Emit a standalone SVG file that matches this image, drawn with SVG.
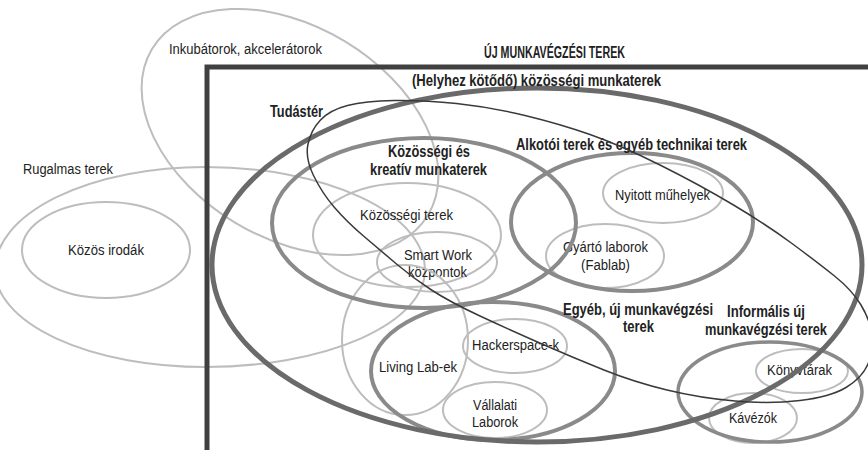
<svg xmlns="http://www.w3.org/2000/svg" width="868" height="450" viewBox="0 0 868 450">
<style>
.lt{fill:none;stroke:#bdbdbd;stroke-width:2}
.md{fill:none;stroke:#8a8a8a;stroke-width:4}
.mn{fill:none;stroke:#6a6a6a;stroke-width:5}
.tk{fill:none;stroke:#3a3a3a;stroke-width:1.5}
.fr{fill:none;stroke:#404040;stroke-width:5}
text{font-family:"Liberation Sans Narrow","Liberation Sans",Arial,sans-serif;fill:#222;text-anchor:middle}
.r{font-size:15.5px}
.b{font-size:16px;font-weight:bold}
</style>
<rect width="868" height="450" fill="#fff"/>
<g id="rugalmas"><path class="lt" d="M -5,270 A 210 103 0 0 1 205,167 A 220 103 0 0 1 425,270 A 220 97 0 0 1 205,367 A 210 97 0 0 1 -5,270 Z"/><text class="r" x="68" y="174" textLength="90" lengthAdjust="spacingAndGlyphs">Rugalmas terek</text></g>
<g id="kozos-irodak"><ellipse class="lt" cx="106" cy="250" rx="84" ry="48"/><text class="r" x="106" y="255" textLength="76" lengthAdjust="spacingAndGlyphs">Közös irodák</text></g>
<g id="inkubatorok"><ellipse class="lt" cx="290" cy="132" rx="161" ry="106" transform="rotate(31 290 132)"/><text class="r" x="245.5" y="54" textLength="153" lengthAdjust="spacingAndGlyphs">Inkubátorok, akcelerátorok</text></g>
<g id="kozossegi-terek"><ellipse class="lt" cx="407" cy="235" rx="94" ry="52"/><text class="r" x="406.5" y="220" textLength="93" lengthAdjust="spacingAndGlyphs">Közösségi terek</text></g>
<g id="smart-work"><ellipse class="lt" cx="437" cy="262" rx="60" ry="30"/><text class="r" x="438" y="260" textLength="68" lengthAdjust="spacingAndGlyphs">Smart Work</text><text class="r" x="437.5" y="277" textLength="59" lengthAdjust="spacingAndGlyphs">központok</text></g>
<g id="living-lab"><ellipse class="lt" cx="405" cy="340" rx="63" ry="75"/><text class="r" x="418" y="372" textLength="78" lengthAdjust="spacingAndGlyphs">Living Lab-ek</text></g>
<g id="hackerspace"><ellipse class="lt" cx="515" cy="346" rx="52" ry="27"/><text class="r" x="515.5" y="350" textLength="87" lengthAdjust="spacingAndGlyphs">Hackerspace-k</text></g>
<g id="vallalati"><ellipse class="lt" cx="495" cy="410" rx="52" ry="28"/><text class="r" x="495" y="410" textLength="44" lengthAdjust="spacingAndGlyphs">Vállalati</text><text class="r" x="495" y="427" textLength="46" lengthAdjust="spacingAndGlyphs">Laborok</text></g>
<g id="nyitott"><ellipse class="lt" cx="663" cy="193" rx="60" ry="30"/><text class="r" x="662.5" y="200" textLength="95" lengthAdjust="spacingAndGlyphs">Nyitott műhelyek</text></g>
<g id="gyarto"><ellipse class="lt" cx="605" cy="256" rx="59" ry="32"/><text class="r" x="605.5" y="252" textLength="85" lengthAdjust="spacingAndGlyphs">Gyártó laborok</text><text class="r" x="605.5" y="270" textLength="49" lengthAdjust="spacingAndGlyphs">(Fablab)</text></g>
<g id="konyvtarak"><ellipse class="lt" cx="802" cy="371" rx="46" ry="22"/><text class="r" x="799.5" y="375" textLength="65" lengthAdjust="spacingAndGlyphs">Könyvtárak</text></g>
<g id="kavezok"><ellipse class="lt" cx="753" cy="418" rx="44" ry="25"/><text class="r" x="753" y="423" textLength="48" lengthAdjust="spacingAndGlyphs">Kávézók</text></g>
<g id="kozossegi-kreativ"><ellipse class="md" cx="424" cy="223" rx="152" ry="85"/><text class="b" x="429" y="157" textLength="82" lengthAdjust="spacingAndGlyphs">Közösségi és</text><text class="b" x="428.5" y="175" textLength="117" lengthAdjust="spacingAndGlyphs">kreatív munkaterek</text></g>
<g id="alkotoi"><ellipse class="md" cx="632" cy="222" rx="121" ry="69"/><text class="b" x="631.5" y="150" textLength="231" lengthAdjust="spacingAndGlyphs">Alkotói terek és egyéb technikai terek</text></g>
<g id="egyeb"><ellipse class="md" cx="493" cy="371" rx="122" ry="69"/><text class="b" x="638" y="315" textLength="150" lengthAdjust="spacingAndGlyphs">Egyéb, új munkavégzési</text><text class="b" x="638.5" y="332" textLength="31" lengthAdjust="spacingAndGlyphs">terek</text></g>
<g id="informalis"><ellipse class="md" cx="770" cy="392" rx="92" ry="50" style="stroke-width:3.5"/><text class="b" x="766" y="317" textLength="78" lengthAdjust="spacingAndGlyphs">Informális új</text><text class="b" x="766" y="335" textLength="122" lengthAdjust="spacingAndGlyphs">munkavégzési terek</text></g>
<g id="helyhez-kotodo"><ellipse class="mn" cx="537" cy="265" rx="325" ry="177"/><text class="b" x="536.5" y="86" textLength="249" lengthAdjust="spacingAndGlyphs">(Helyhez kötődő) közösségi munkaterek</text></g>
<g id="tudaster"><path class="tk" d="M 308,144 Q 311,130 320.5,120 Q 330,110 347.5,105.5 Q 365,101 394,100.5 Q 423,100 456.5,103.5 Q 490,107 525,115.5 Q 560,124 590,134.5 Q 620,145 660,165 Q 700,185 733.5,205 Q 767,225 792,243.5 Q 817,262 834.5,276 Q 852,290 861,305 Q 870,320 872,335 Q 874,350 868,364 Q 862,378 846,387.5 Q 830,397 800,400.5 Q 770,404 735,401 Q 700,398 667,390 Q 634,382 604,370 Q 574,358 542,344 Q 510,330 480,316 Q 450,302 431.5,290 Q 413,278 396.5,264 Q 380,250 363.5,236 Q 347,222 334.5,207.5 Q 322,193 313.5,175.5 Q 305,158 308,144 Z"/><text class="b" x="296.5" y="117" textLength="53" lengthAdjust="spacingAndGlyphs">Tudástér</text></g>
<g id="uj-munkavegzesi-terek"><path class="fr" d="M 207,452 V 67 H 872"/><text class="b" x="554.5" y="58" textLength="141" lengthAdjust="spacingAndGlyphs">ÚJ MUNKAVÉGZÉSI TEREK</text></g>
<g id="connectors"></g>
</svg>
